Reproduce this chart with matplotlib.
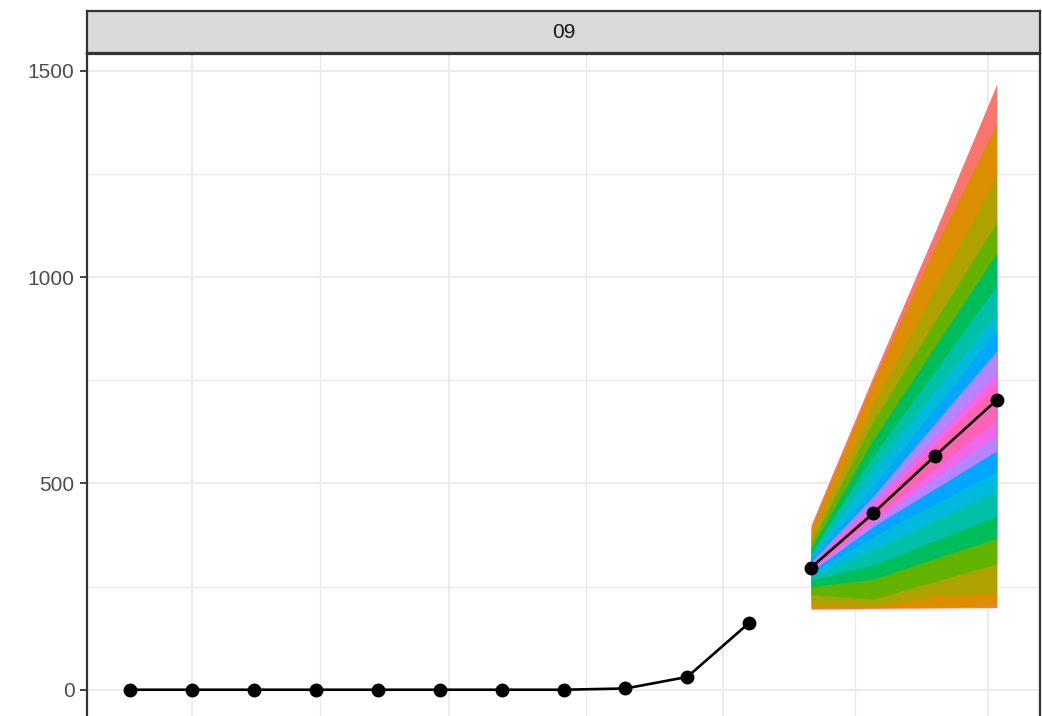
import matplotlib.pyplot as plt
import matplotlib.dates as mdates
import numpy as np
import pandas as pd

# Observed weekly cumulative counts
obs_dates = pd.to_datetime([
    "2020-01-25", "2020-02-01", "2020-02-08", "2020-02-15", "2020-02-22",
    "2020-02-29", "2020-03-07", "2020-03-14", "2020-03-21", "2020-03-28",
    "2020-04-04",
])
obs_values = [0, 0, 0, 0, 0, 0, 0, 0, 3, 31, 162]

# Forecast target dates and quantile levels
fc_dates = pd.to_datetime(["2020-04-11", "2020-04-18", "2020-04-25", "2020-05-02"])
quantile_levels = [0.01, 0.025, 0.05, 0.1, 0.15, 0.2, 0.25, 0.3, 0.35, 0.4, 0.45, 0.5,
                   0.55, 0.6, 0.65, 0.7, 0.75, 0.8, 0.85, 0.9, 0.95, 0.975, 0.99]

# Forecast quantiles, one list per target week
fc_week1 = [195, 198, 208, 230, 250, 266, 274, 283, 287, 290, 293, 296,
            300, 305, 310, 316, 323, 332, 342, 355, 372, 392, 399]
fc_week2 = [197, 199, 202, 220, 268, 303, 339, 371, 395, 407, 415, 427,
            440, 452, 468, 492, 532, 565, 605, 650, 690, 745, 758]
fc_week3 = [198, 200, 228, 262, 318, 362, 411, 450, 487, 512, 535, 566,
            593, 611, 645, 681, 722, 772, 831, 893, 970, 1072, 1108]
fc_week4 = [199, 204, 234, 305, 367, 421, 483, 529, 579, 617, 654, 702,
            746, 771, 821, 871, 912, 979, 1058, 1133, 1242, 1371, 1467]

# ggplot2 default hue palette for 11 interval levels (widest first)
band_colors = ["#F8766D", "#DB8E00", "#AEA200", "#64B200", "#00BD5C", "#00C1A7",
               "#00BADE", "#00A6FF", "#B385FF", "#EF67EB", "#FF63B6"]

plt.rcParams['font.family'] = ['Liberation Sans', 'DejaVu Sans']

q = np.array([fc_week1, fc_week2, fc_week3, fc_week4]).T
median = q[quantile_levels.index(0.5)]

fig = plt.figure(figsize=(10.42, 7.16), dpi=100)
ax = fig.add_axes([87 / 1042, -4 / 716, 953 / 1042, 666 / 716])

# nested central intervals, widest drawn first
n_q = len(quantile_levels)
for i, col in enumerate(band_colors):
    ax.fill_between(fc_dates, q[i], q[n_q - 1 - i], color=col, linewidth=0, zorder=2)

ax.plot(obs_dates, obs_values, color="black", lw=1.9, marker="o", ms=9, zorder=3)
ax.plot(fc_dates, median, color="black", lw=1.9, marker="o", ms=9, zorder=3)

# scale expansion like ggplot (5% each side)
all_dates = obs_dates.append(fc_dates)
x0, x1 = mdates.date2num(all_dates.min()), mdates.date2num(all_dates.max())
ax.set_xlim(x0 - 0.05 * (x1 - x0), x1 + 0.05 * (x1 - x0))
y0, y1 = 0, q.max()
ax.set_ylim(y0 - 0.05 * (y1 - y0), y1 + 0.05 * (y1 - y0))

major_x = pd.to_datetime(["2020-02-01", "2020-03-01", "2020-04-01", "2020-05-01"])
major_num = mdates.date2num(major_x)
ax.set_xticks(major_num)
ax.set_xticks((major_num[:-1] + major_num[1:]) / 2, minor=True)
ax.set_yticks([0, 500, 1000, 1500])
ax.set_yticks([250, 750, 1250], minor=True)

ax.grid(which="major", color="#EBEBEB", lw=1.4)
ax.grid(which="minor", color="#EBEBEB", lw=1.0)
ax.set_axisbelow(True)

ax.tick_params(axis="x", which="both", length=0, labelbottom=False)
ax.tick_params(axis="y", which="major", length=5, width=1.3, color="#333333",
               labelsize=15, labelcolor="#4D4D4D", pad=4)
ax.tick_params(axis="y", which="minor", length=0)
for s in ax.spines.values():
    s.set_color("#333333")
    s.set_linewidth(1.6)

# facet strip
strip = fig.add_axes([87 / 1042, (716 - 53) / 716, 953 / 1042, 42 / 716])
strip.set_facecolor("#D9D9D9")
strip.set_xticks([])
strip.set_yticks([])
for s in strip.spines.values():
    s.set_color("#333333")
    s.set_linewidth(1.6)
strip.text(0.5, 0.5, "09", ha="center", va="center", fontsize=15, color="#1A1A1A",
           transform=strip.transAxes)

fig.savefig("out.png", dpi=100)
